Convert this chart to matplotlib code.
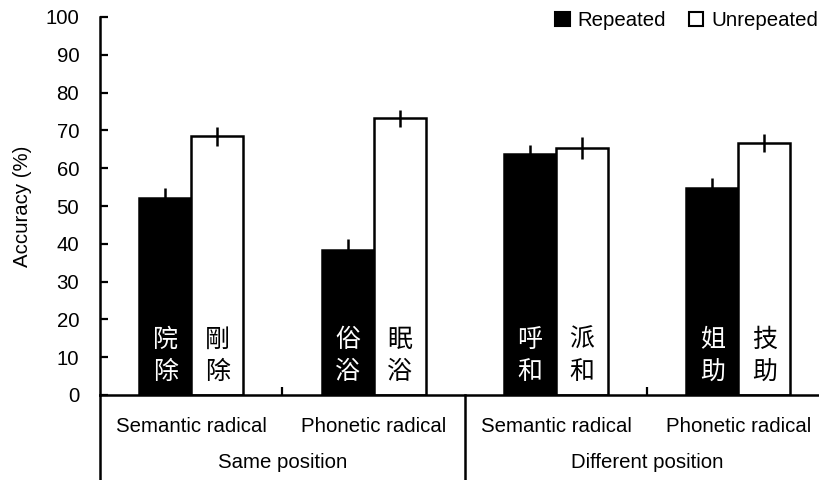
import matplotlib
matplotlib.use("Agg")
import matplotlib.pyplot as plt
from matplotlib.patches import Patch
import numpy as np

plt.rcParams['font.family'] = ['Liberation Sans', 'DejaVu Sans']

# Conditions (radical type within position) and group labels
conditions = ["Semantic radical", "Phonetic radical", "Semantic radical", "Phonetic radical"]
groups = ["Same position", "Different position"]

# Accuracy (%) and error bars
repeated = [52.1, 38.4, 63.8, 54.7]
repeated_err = [2.6, 2.8, 2.4, 2.8]
unrepeated = [68.5, 73.2, 65.3, 66.6]
unrepeated_err = [2.5, 2.2, 2.9, 2.4]

# Example character pairs printed inside the bars
repeated_chars = ["院\n除", "俗\n浴", "呼\n和", "姐\n助"]
unrepeated_chars = ["剛\n除", "眠\n浴", "派\n和", "技\n助"]

series_labels = ["Repeated", "Unrepeated"]
yticks = list(range(0, 101, 10))

FS = 14.7
W, H = 820, 480
fig = plt.figure(figsize=(W / 100, H / 100), dpi=100)
ax_left, ax_bottom, ax_top = 100 / W, (H - 395) / H, (H - 17) / H
ax = fig.add_axes([ax_left, ax_bottom, 1 - ax_left, ax_top - ax_bottom])

x = np.arange(len(conditions))
bw = 0.285
err_kw = dict(ecolor="black", elinewidth=1.8, capsize=0)
ax.bar(x - bw / 2, repeated, bw, yerr=repeated_err, color="black",
       edgecolor="black", linewidth=1.8, error_kw=err_kw, label=series_labels[0], zorder=2)
ax.bar(x + bw / 2, unrepeated, bw, yerr=unrepeated_err, color="white",
       edgecolor="black", linewidth=1.8, error_kw=err_kw, label=series_labels[1], zorder=2)

cjk = ['Noto Sans CJK TC', 'DejaVu Sans']
for i in range(len(conditions)):
    ax.text(x[i] - bw / 2, 10.4, repeated_chars[i], ha="center", va="center",
            color="white", fontsize=18, family=cjk, linespacing=1.3, zorder=3)
    ax.text(x[i] + bw / 2, 10.4, unrepeated_chars[i], ha="center", va="center",
            color="black", fontsize=18, family=cjk, linespacing=1.3, zorder=3)

ax.set_xlim(-0.5, -0.5 + (W - 100) / 182.4)
ax.set_ylim(0, 100)
ax.set_yticks(yticks)
ax.set_yticklabels([str(t) for t in yticks], fontsize=FS)
ax.tick_params(axis="y", direction="in", length=6, width=1.6, pad=15)
ax.set_xticks([0.5, 2.5])
ax.set_xticklabels([])
ax.tick_params(axis="x", direction="in", length=6, width=1.6)
ax.set_ylabel("Accuracy (%)", fontsize=FS, labelpad=10)

for s in ["top", "right"]:
    ax.spines[s].set_visible(False)
for s in ["left", "bottom"]:
    ax.spines[s].set_linewidth(1.8)

trans = ax.get_xaxis_transform()
y_bottom = -(H - 395) / 378
# extended left axis and the divider between position groups
ax.plot([-0.5, -0.5], [0, y_bottom], color="black", lw=1.8, transform=trans, clip_on=False)
ax.plot([1.5, 1.5], [0, y_bottom], color="black", lw=1.8, transform=trans, clip_on=False)

for i, c in enumerate(conditions):
    ax.text(x[i], -31 / 378, c, transform=trans, ha="center", va="center", fontsize=FS)
for g, name in enumerate(groups):
    ax.text(0.5 + 2 * g, -68 / 378, name, transform=trans, ha="center", va="center", fontsize=FS)

handles = [Patch(facecolor="black", edgecolor="black", linewidth=1.5),
           Patch(facecolor="white", edgecolor="black", linewidth=1.5)]
fig.legend(handles, series_labels, loc="upper right", bbox_to_anchor=(818 / W, 1 - 11 / H),
           ncol=2, frameon=False, fontsize=FS, handlelength=0.7, handleheight=0.7,
           handletextpad=0.4, columnspacing=1.1, borderpad=0, borderaxespad=0)

fig.savefig("out.png", dpi=100)
